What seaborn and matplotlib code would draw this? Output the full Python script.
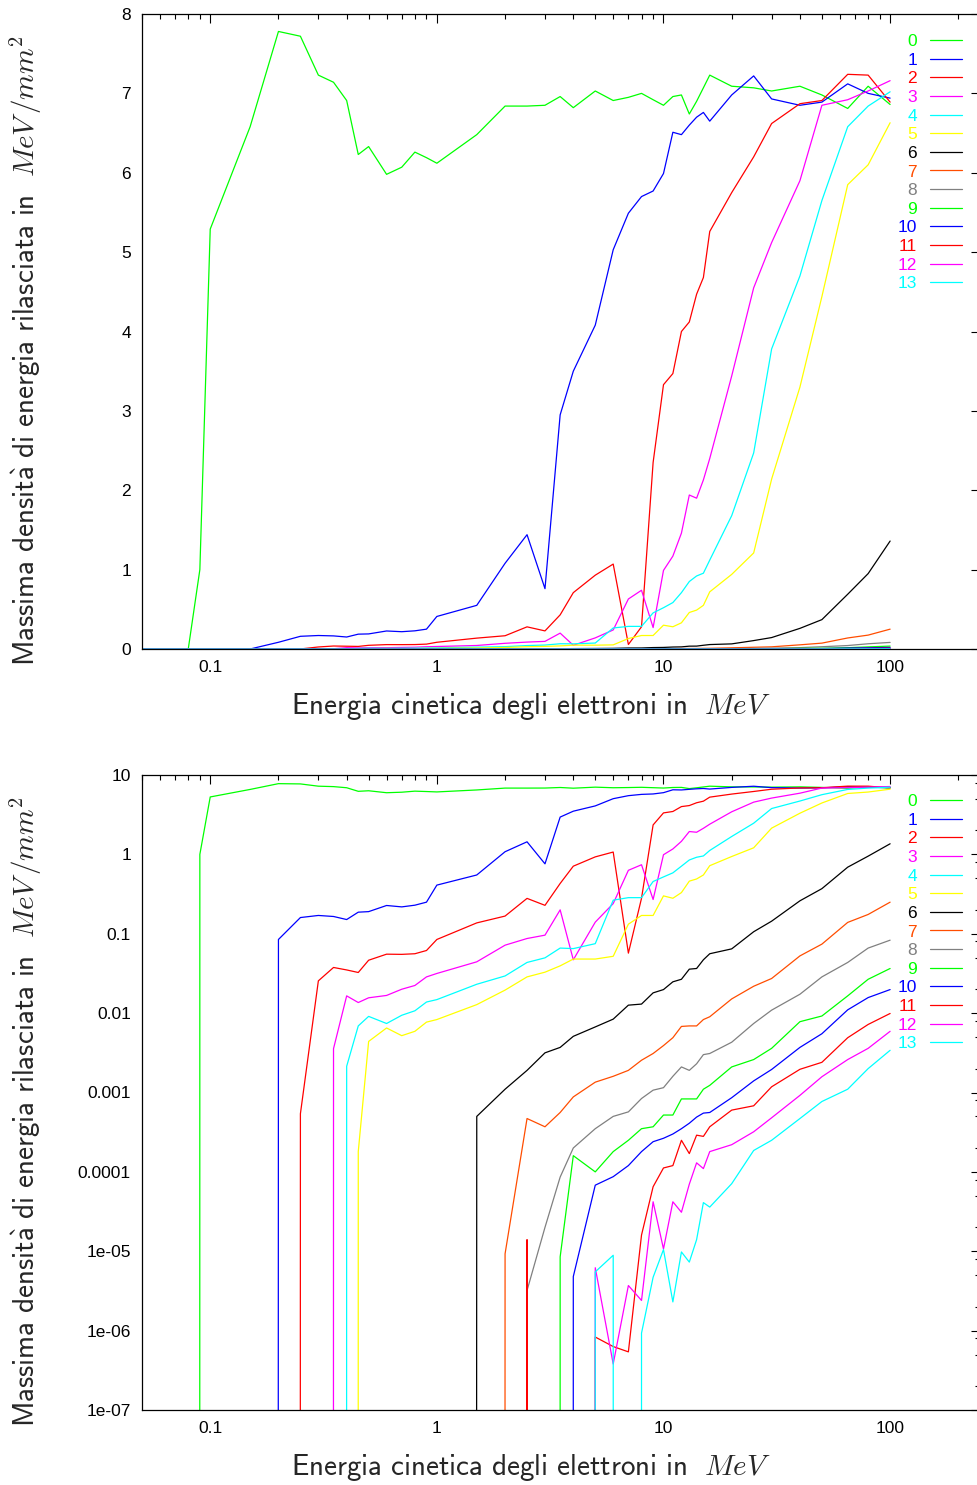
import numpy as np
import pandas as pd
import matplotlib
matplotlib.use("Agg")
import matplotlib.pyplot as plt
import seaborn as sns
from matplotlib.ticker import LogLocator, FuncFormatter, NullFormatter, MultipleLocator

# ---------------- data ----------------
energy = [0.05, 0.06, 0.07, 0.08, 0.09, 0.1, 0.15, 0.2, 0.25, 0.3, 0.35, 0.4, 0.45, 0.5,
          0.6, 0.7, 0.8, 0.9, 1, 1.5, 2, 2.5, 3, 3.5, 4, 5, 6, 7, 8, 9, 10, 11, 12, 13,
          14, 15, 16, 20, 25, 30, 40, 50, 65, 80, 100]

layer_labels = [str(i) for i in range(14)]

s0 = [0, 0, 0, 0, 1.0, 5.29, 6.58, 7.78, 7.72, 7.23, 7.14, 6.91, 6.23, 6.33, 5.98, 6.07,
      6.26, 6.19, 6.12, 6.48, 6.84, 6.84, 6.85, 6.96, 6.82, 7.03, 6.91, 6.95, 7.0, 6.92,
      6.85, 6.96, 6.98, 6.74, 6.9, 7.07, 7.23, 7.09, 7.07, 7.03, 7.09, 6.98, 6.81, 7.09, 6.86]
s1 = [0, 0, 0, 0, 0, 0, 0, 0.0847, 0.16, 0.17, 0.165, 0.151, 0.187, 0.19, 0.227, 0.218,
      0.229, 0.25, 0.41, 0.55, 1.08, 1.44, 0.76, 2.95, 3.5, 4.08, 5.03, 5.49, 5.7, 5.77,
      5.99, 6.51, 6.48, 6.6, 6.7, 6.76, 6.65, 6.98, 7.22, 6.93, 6.85, 6.89, 7.12, 7.0, 6.94]
s2 = [0, 0, 0, 0, 0, 0, 0, 0, 5.4e-4, 0.0255, 0.0376, 0.035, 0.0325, 0.0464, 0.0553, 0.055,
      0.056, 0.0615, 0.0847, 0.137, 0.167, 0.279, 0.228, 0.43, 0.71, 0.93, 1.07, 0.057,
      0.28, 2.35, 3.33, 3.47, 4.0, 4.12, 4.47, 4.68, 5.26, 5.75, 6.2, 6.62, 6.87, 6.91,
      7.24, 7.23, 6.89]
s3 = [0, 0, 0, 0, 0, 0, 0, 0, 0, 0, 0.00357, 0.0165, 0.0136, 0.0156, 0.0167, 0.02, 0.0223,
      0.0286, 0.0316, 0.0443, 0.0718, 0.0871, 0.096, 0.2, 0.047, 0.14, 0.24, 0.63, 0.74,
      0.27, 0.99, 1.17, 1.46, 1.94, 1.9, 2.13, 2.4, 3.44, 4.55, 5.12, 5.9, 6.85, 6.92,
      7.03, 7.16]
s4 = [0, 0, 0, 0, 0, 0, 0, 0, 0, 0, 0, 0.00214, 0.0069, 0.0091, 0.0074, 0.0094, 0.0107,
      0.0138, 0.0148, 0.0231, 0.0294, 0.0435, 0.0497, 0.066, 0.065, 0.075, 0.265, 0.285,
      0.285, 0.455, 0.52, 0.585, 0.71, 0.85, 0.92, 0.955, 1.12, 1.68, 2.47, 3.78, 4.7,
      5.65, 6.58, 6.84, 7.02]
s5 = [0, 0, 0, 0, 0, 0, 0, 0, 0, 0, 0, 0, 1.8e-4, 0.0044, 0.0065, 0.0052, 0.0059, 0.0077,
      0.0083, 0.0128, 0.0195, 0.0286, 0.0328, 0.0394, 0.048, 0.048, 0.052, 0.132, 0.17,
      0.17, 0.30, 0.28, 0.33, 0.46, 0.49, 0.55, 0.72, 0.94, 1.21, 2.14, 3.3, 4.44, 5.85,
      6.1, 6.63]
s6 = [0] * 19 + [5.0e-4, 0.0011, 0.0019, 0.00316, 0.0037, 0.0051, 0.0067, 0.0084, 0.0126,
                 0.013, 0.018, 0.0198, 0.0248, 0.0267, 0.0358, 0.0365, 0.047, 0.056, 0.0645,
                 0.106, 0.144, 0.26, 0.37, 0.69, 0.95, 1.36]
s7 = [0] * 20 + [9.3e-6, 4.7e-4, 3.7e-4, 5.6e-4, 8.8e-4, 0.00135, 0.0016, 0.0019, 0.00255,
                 0.0031, 0.0039, 0.0049, 0.0068, 0.0069, 0.0069, 0.0083, 0.009, 0.0151,
                 0.0218, 0.0273, 0.0526, 0.074, 0.139, 0.175, 0.25]
s8 = [0] * 21 + [3.2e-6, 2.0e-5, 8.6e-5, 2.0e-4, 3.5e-4, 5.0e-4, 5.7e-4, 8.4e-4, 0.00107,
                 0.00115, 0.0016, 0.0021, 0.0019, 0.0023, 0.003, 0.0031, 0.0043, 0.0074,
                 0.0109, 0.0173, 0.0286, 0.0435, 0.066, 0.083]
s9 = [0] * 23 + [8.5e-6, 1.6e-4, 1.0e-4, 1.8e-4, 2.5e-4, 3.5e-4, 3.7e-4, 5.2e-4, 5.2e-4,
                 8.3e-4, 8.3e-4, 8.3e-4, 0.0011, 0.00123, 0.0021, 0.0026, 0.0036, 0.0078,
                 0.0092, 0.0165, 0.0267, 0.0365]
s10 = [0] * 24 + [4.8e-6, 6.8e-5, 8.7e-5, 1.2e-4, 1.8e-4, 2.4e-4, 2.65e-4, 3.0e-4, 3.5e-4,
                  4.1e-4, 4.9e-4, 5.5e-4, 5.6e-4, 8.6e-4, 0.0014, 0.00195, 0.0037, 0.0055,
                  0.011, 0.0157, 0.0198]
s11 = [0] * 21 + [1.4e-5, 0, 0, 0, 8.3e-7, 6.3e-7, 5.4e-7, 1.6e-5, 6.5e-5, 1.12e-4, 1.2e-4,
                  2.5e-4, 1.7e-4, 2.9e-4, 2.8e-4, 3.7e-4, 6.0e-4, 6.8e-4, 0.00118, 0.00196,
                  0.0024, 0.0049, 0.0072, 0.0099]
s12 = [0] * 25 + [6.2e-6, 3.8e-7, 3.7e-6, 2.4e-6, 4.2e-5, 1.07e-5, 4.2e-5, 3.1e-5, 7e-5,
                  1.3e-4, 1.1e-4, 1.8e-4, 2.2e-4, 3.2e-4, 4.8e-4, 9.2e-4, 0.00158, 0.0026,
                  0.0036, 0.0059]
s13 = [0] * 25 + [5.5e-6, 8.9e-6, 0, 9.3e-7, 4.7e-6, 1.05e-5, 2.3e-6, 9.8e-6, 7.3e-6,
                  1.4e-5, 4.1e-5, 3.6e-5, 7.1e-5, 1.86e-4, 2.5e-4, 4.7e-4, 7.7e-4, 0.0011,
                  0.002, 0.0034]

series = [s0, s1, s2, s3, s4, s5, s6, s7, s8, s9, s10, s11, s12, s13]

base_colors = ["#00ff00", "#0000ff", "#ff0000", "#ff00ff", "#00ffff", "#ffff00",
               "#000000", "#ff4d00", "#808080"]
line_colors = [base_colors[i % len(base_colors)] for i in range(len(layer_labels))]

xlabel = r"$\mathsf{Energia\ cinetica\ degli\ elettroni\ in}\ \ MeV$"
ylabel = r"$\mathsf{Massima\ densit\grave{a}\ di\ energia\ rilasciata\ in}\ \ MeV\,/mm^2$"

# ---------------- long table ----------------
rows = []
for lab, vals in zip(layer_labels, series):
    for e, v in zip(energy, vals):
        rows.append((e, v, lab))
df = pd.DataFrame(rows, columns=["E", "val", "layer"])

# ---------------- style ----------------
sns.set_theme(style="white")
plt.rcParams["font.family"] = ["Liberation Sans", "DejaVu Sans"]
plt.rcParams["mathtext.fontset"] = "cm"

W, H = 977, 1485
fig = plt.figure(figsize=(W / 100, H / 100), dpi=100)


def px_axes(l, t, r, b):
    return [l / W, 1 - b / H, (r - l) / W, (b - t) / H]


ax1 = fig.add_axes(px_axes(142, 14, 980.3, 649))
ax2 = fig.add_axes(px_axes(142, 775, 980.3, 1410))

ax1.set_xscale("log")
ax2.set_xscale("log")
ax2.set_yscale("log", nonpositive="clip")

palette = dict(zip(layer_labels, line_colors))
gfmt = FuncFormatter(lambda v, p: "%g" % v)

for ax, legend_top in ((ax1, 34), (ax2, 794)):
    sns.lineplot(data=df, x="E", y="val", hue="layer", hue_order=layer_labels,
                 palette=palette, estimator=None, sort=False, linewidth=0.9,
                 ax=ax, legend=False)
    ax.set_xlim(0.05, 250)
    for sp in ax.spines.values():
        sp.set_color("black")
        sp.set_linewidth(0.9)
    ax.xaxis.set_major_locator(LogLocator(base=10, numticks=20))
    ax.xaxis.set_minor_locator(LogLocator(base=10, subs=np.arange(2, 10), numticks=20))
    ax.xaxis.set_major_formatter(gfmt)
    ax.xaxis.set_minor_formatter(NullFormatter())
    ax.tick_params(which="both", direction="in", top=True, right=True,
                   color="black", labelcolor="black", width=0.8)
    ax.tick_params(which="major", length=6.5, labelsize=12.5, pad=8)
    ax.tick_params(which="minor", length=3.3)
    ax.set_xlabel(xlabel, fontsize=21)
    ax.set_ylabel(ylabel, fontsize=21)
    ax.xaxis.set_label_coords((531 - 142) / 838.3, -0.066)
    ax.yaxis.set_label_coords((44 - 142) / 838.3, 0.47)
    lines = ax.get_lines()[: len(layer_labels)]
    ax.legend(lines, layer_labels, loc="upper right",
              bbox_to_anchor=(962 / W, 1 - legend_top / H), bbox_transform=fig.transFigure,
              frameon=False, markerfirst=False, labelcolor="linecolor",
              handlelength=1.84, handletextpad=0.75, labelspacing=0.2,
              borderpad=0, borderaxespad=0,
              prop={"family": "Liberation Sans", "size": 12.5})

ax1.set_ylim(0, 8)
ax1.yaxis.set_major_locator(MultipleLocator(1))
ax1.yaxis.set_major_formatter(gfmt)
ax1.tick_params(axis="y", which="minor", left=False, right=False)

ax2.set_ylim(1e-7, 10)
ax2.yaxis.set_major_locator(LogLocator(base=10, numticks=20))
ax2.yaxis.set_minor_locator(LogLocator(base=10, subs=[2, 5, 8], numticks=20))
ax2.yaxis.set_major_formatter(gfmt)
ax2.yaxis.set_minor_formatter(NullFormatter())

fig.savefig("out.png", dpi=100)
